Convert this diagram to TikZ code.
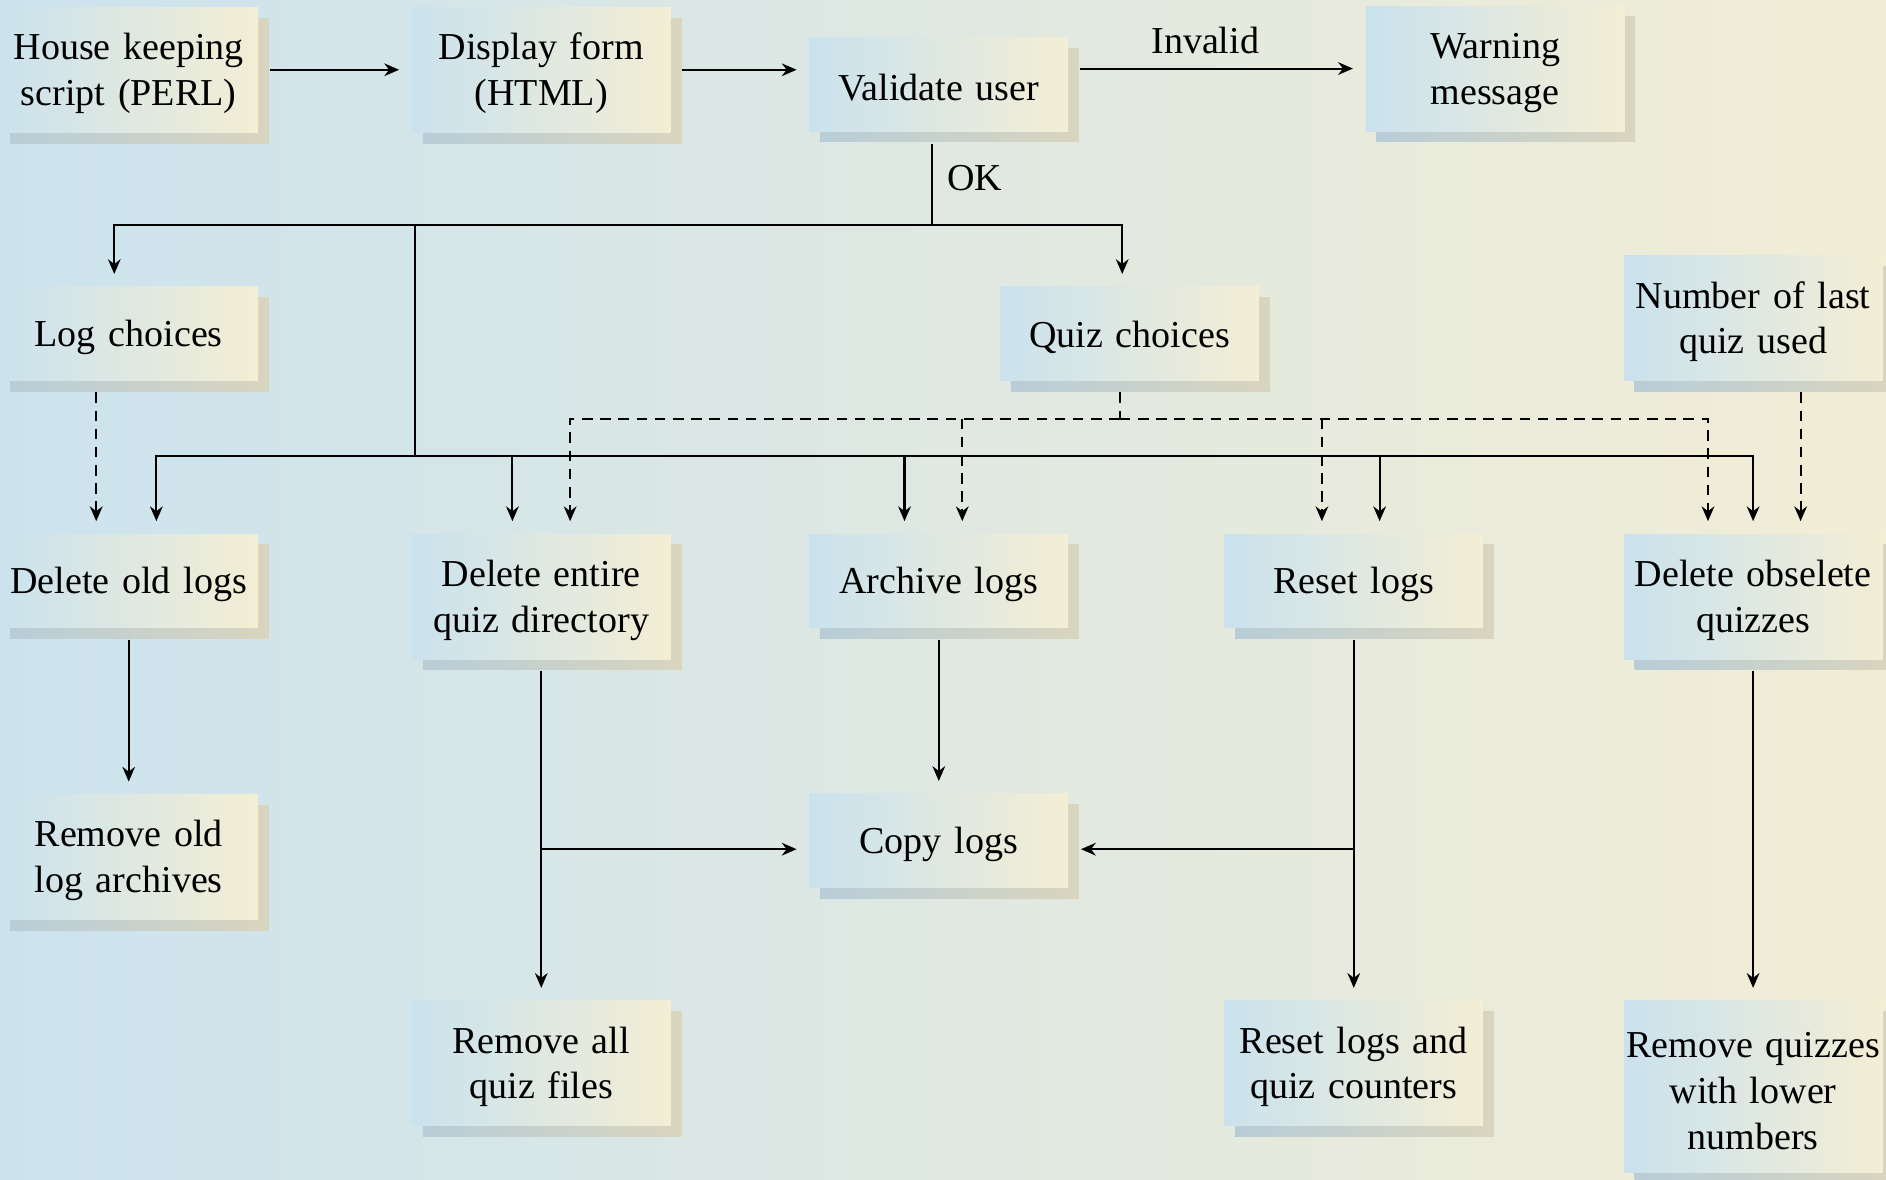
\documentclass[tikz,border=0pt]{standalone}
\usepackage{fontspec}
\setmainfont{Liberation Serif}
\usetikzlibrary{arrows.meta,shadows}
\definecolor{bgleft}{HTML}{CCE3EE}
\definecolor{bgright}{HTML}{F2EDD5}
\definecolor{boxleft}{HTML}{CAE2EE}
\definecolor{boxright}{HTML}{F3EED4}
\definecolor{shleft}{HTML}{B8CDD8}
\definecolor{shright}{HTML}{D9D5BE}

\begin{document}
\begin{tikzpicture}[
  block/.style={left color=boxleft, right color=boxright, text width=2.13cm,
    inner xsep=0.01cm, align=center, minimum height=0.78cm,
    font=\fontsize{9}{10.8}\selectfont,
    execute at begin node={\rule{0pt}{8pt}},
    drop shadow={shadow xshift=0.09cm, shadow yshift=-0.09cm, opacity=1,
      left color=shleft, right color=shright}},
  block2/.style={block, minimum height=1.04cm},
  block3/.style={block, minimum height=1.43cm},
  arr/.style={-{Stealth[length=3.5pt,width=3pt]}, line width=0.5pt, shorten >=0.1cm},
  darr/.style={arr, dash pattern=on 2.5pt off 1.8pt},
  lbl/.style={font=\fontsize{9}{10.8}\selectfont}]
\useasboundingbox (0,0) rectangle (15.68,-9.81);
\shade[left color=bgleft, right color=bgright] (0,0) rectangle (15.68,-9.81);

\node[block2] (hk) at (1.07,-0.58) {House keeping\\script (PERL)};
\node[block2] (disp) at (4.50,-0.58) {Display form\\(HTML)};
\node[block] (valid) at (7.805,-0.70) {Validate user};
\node[block2] (warn) at (12.43,-0.57) {Warning\\message};
\node[block] (logc) at (1.07,-2.775) {Log choices};
\node[block] (quizc) at (9.39,-2.775) {Quiz choices};
\node[block2] (numq) at (14.575,-2.645) {Number of last\\quiz used};
\node[block] (delold) at (1.07,-4.83) {Delete old logs};
\node[block2] (delent) at (4.50,-4.96) {Delete entire\\quiz directory};
\node[block] (arch) at (7.805,-4.83) {Archive logs};
\node[block] (reset) at (11.255,-4.83) {Reset logs};
\node[block2] (delobs) at (14.575,-4.96) {Delete obselete\\quizzes};
\node[block2] (remold) at (1.07,-7.125) {Remove old\\log archives};
\node[block] (copy) at (7.805,-6.99) {Copy logs};
\node[block2] (remall) at (4.50,-8.84) {Remove all\\quiz files};
\node[block2] (resetq) at (11.255,-8.84) {Reset logs and\\quiz counters};
\node[block3] (remq) at (14.575,-9.035) {Remove quizzes\\with lower\\numbers};

\draw[arr] ([xshift=0.09cm]hk.east) -- (disp.west);
\draw[arr] ([xshift=0.09cm]disp.east) -- (valid.west |- disp.east);
\draw[arr] ([xshift=0.09cm]valid.east |- warn.west) -- (warn.west) node[lbl, pos=0.44, above] {Invalid};

\coordinate (ok) at (7.75,-1.87);
\draw[line width=0.5pt] ([yshift=-0.1cm]valid.south -| ok) -- (ok) node[lbl, pos=0.42, right] {OK};
\draw[arr] (ok) -| ([xshift=-0.12cm]logc.north);
\draw[arr] (ok) -| ([xshift=-0.06cm]quizc.north);

\coordinate (s1) at (3.45,-1.87);
\coordinate (s2) at (3.45,-3.79);
\draw[line width=0.5pt] (s1) -- (s2);
\draw[arr] (s2) -| ([xshift=0.23cm]delold.north);
\draw[arr] (s2) -| (delobs.north);
\foreach \n/\dx in {delent/-0.24, arch/-0.285, reset/0.215}
  \draw[arr] ([xshift=\dx cm]\n.north |- s2) -- ([xshift=\dx cm]\n.north);

\draw[darr] ([xshift=-0.27cm,yshift=-0.09cm]logc.south) -- ([xshift=-0.27cm]delold.north);
\coordinate (d1) at (9.31,-3.48);
\draw[line width=0.5pt, dash pattern=on 2.5pt off 1.8pt] ([yshift=-0.09cm]quizc.south -| d1) -- (d1);
\draw[darr] (d1) -| ([xshift=0.24cm]delent.north);
\draw[darr] (d1) -| ([xshift=-0.375cm]delobs.north);
\foreach \n/\dx in {arch/0.195, reset/-0.265}
  \draw[darr] ([xshift=\dx cm]\n.north |- d1) -- ([xshift=\dx cm]\n.north);
\draw[darr] ([xshift=0.395cm,yshift=-0.09cm]numq.south) -- ([xshift=0.395cm]delobs.north);

\draw[arr] ([yshift=-0.09cm]delold.south) -- (remold.north);
\draw[arr] ([yshift=-0.09cm]arch.south) -- (copy.north);
\draw[arr] ([yshift=-0.09cm]delent.south) -- (remall.north);
\draw[arr] ([yshift=-0.09cm]reset.south) -- (resetq.north);
\draw[arr] ([yshift=-0.09cm]delobs.south) -- (remq.north);
\coordinate (cin) at ([yshift=-0.07cm]copy.west);
\coordinate (cin2) at ([yshift=-0.07cm]copy.east);
\draw[arr] (delent.south |- cin) -- (cin);
\draw[arr] (reset.south |- cin2) -- (cin2);
\end{tikzpicture}
\end{document}
